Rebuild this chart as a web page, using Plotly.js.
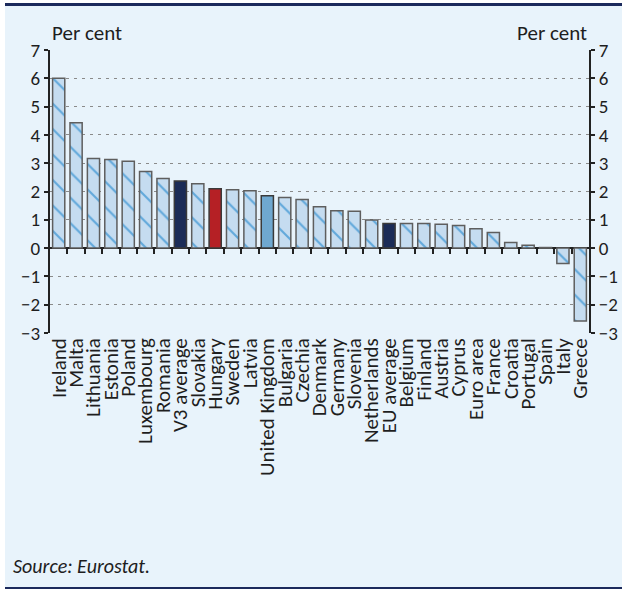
<!DOCTYPE html>
<html>
<head>
<meta charset="utf-8">
<script src="https://cdn.plot.ly/plotly-3.0.1.min.js"></script>
<style>
  html, body { margin: 0; padding: 0; background: #ffffff; }
  #panel { position: absolute; left: 5px; top: 3px; width: 617px; height: 581px;
           border-top: 3px solid #1b2a5c; border-bottom: 2px solid #1b2a5c; background: #e8f3fb; }
  #chart { width: 617px; height: 581px; }
</style>
</head>
<body>
<div id="panel"><div id="chart"></div></div>
<script>
const categories = ["Ireland","Malta","Lithuania","Estonia","Poland","Luxembourg","Romania","V3 average","Slovakia","Hungary","Sweden","Latvia","United Kingdom","Bulgaria","Czechia","Denmark","Germany","Slovenia","Netherlands","EU average","Belgium","Finland","Austria","Cyprus","Euro area","France","Croatia","Portugal","Spain","Italy","Greece"];
const values = [6.0, 4.43, 3.17, 3.13, 3.07, 2.71, 2.46, 2.37, 2.27, 2.10, 2.06, 2.03, 1.85, 1.79, 1.72, 1.46, 1.32, 1.30, 0.99, 0.87, 0.87, 0.87, 0.84, 0.80, 0.68, 0.55, 0.20, 0.10, 0.02, -0.54, -2.58];
const yTicks = [-3, -2, -1, 0, 1, 2, 3, 4, 5, 6, 7];

const solidColors = {"V3 average": "#1b2c57", "EU average": "#1b2c57", "Hungary": "#b52025", "United Kingdom": "#6fa8d0"};
const FONT = "Calibri, Carlito, Lato, 'Liberation Sans', sans-serif";

const idx = categories.map((c, i) => i);
const boundaries = idx.map(i => i + 0.5).slice(0, -1);

const hatched = {
  type: "bar",
  x: idx,
  y: categories.map((c, i) => solidColors[c] ? null : values[i]),
  marker: {
    color: "#c5dcf0",
    line: { color: "#5e5e5e", width: 1.5 },
    pattern: { shape: "\\", fgcolor: "#62a9db", fgopacity: 1, size: 18, solidity: 0.12, fillmode: "overlay" }
  },
  hoverinfo: "skip"
};
const solid = {
  type: "bar",
  x: idx,
  y: categories.map((c, i) => solidColors[c] ? values[i] : null),
  marker: {
    color: categories.map(c => solidColors[c] || "#c5dcf0"),
    line: { color: "#3a3a3a", width: 1.5 }
  },
  hoverinfo: "skip"
};
const ghost = { type: "scatter", x: [0], y: [0], xaxis: "x2", yaxis: "y", mode: "markers", marker: { opacity: 0 }, hoverinfo: "skip", showlegend: false };
const ghost2 = { type: "scatter", x: [0], y: [0], xaxis: "x", yaxis: "y2", mode: "markers", marker: { opacity: 0 }, hoverinfo: "skip", showlegend: false };

const n = categories.length;
const layout = {
  width: 617, height: 581,
  margin: { l: 45, r: 33, t: 44, b: 254 },
  paper_bgcolor: "#e8f3fb",
  plot_bgcolor: "#e8f3fb",
  showlegend: false,
  barmode: "overlay",
  bargap: 0.3,
  font: { family: FONT, size: 18, color: "#1e1e1e" },
  xaxis: {
    range: [-0.5, n - 0.5],
    tickmode: "array",
    tickvals: idx,
    ticktext: categories,
    tickangle: -90,
    ticks: "",
    showgrid: false,
    zeroline: false,
    showline: false,
    tickfont: { family: FONT, size: 21, color: "#1e1e1e" },
    fixedrange: true
  },
  xaxis2: {
    overlaying: "x",
    anchor: "free",
    position: 0.3,
    range: [-0.5, n - 0.5],
    tickmode: "array",
    tickvals: boundaries,
    ticks: "outside",
    ticklen: 5,
    tickwidth: 2,
    tickcolor: "#222",
    showticklabels: false,
    showgrid: false,
    zeroline: false,
    showline: false
  },
  yaxis: {
    range: [-3, 7],
    tickmode: "array",
    tickvals: yTicks,
    ticks: "outside",
    ticklen: 4,
    tickwidth: 2,
    tickcolor: "#222",
    showline: true,
    linewidth: 2,
    linecolor: "#222",
    showgrid: true,
    gridcolor: "#8a8a8a",
    gridwidth: 1,
    griddash: "3px,5px",
    zeroline: true,
    zerolinecolor: "#222",
    zerolinewidth: 2,
    tickfont: { family: FONT, size: 19, color: "#1e1e1e" },
    fixedrange: true
  },
  yaxis2: {
    overlaying: "y",
    side: "right",
    range: [-3, 7],
    tickmode: "array",
    tickvals: yTicks,
    ticks: "outside",
    ticklen: 4,
    tickwidth: 2,
    tickcolor: "#222",
    showline: true,
    linewidth: 2,
    linecolor: "#222",
    showgrid: false,
    zeroline: false,
    tickfont: { family: FONT, size: 19, color: "#1e1e1e" },
    fixedrange: true
  },
  annotations: [
    { text: "Per cent", xref: "paper", yref: "paper", x: 0, y: 1, xanchor: "left", yanchor: "bottom", yshift: 2, showarrow: false, font: { family: FONT, size: 21, color: "#1e1e1e" } },
    { text: "Per cent", xref: "paper", yref: "paper", x: 1, y: 1, xanchor: "right", yanchor: "bottom", yshift: 2, showarrow: false, font: { family: FONT, size: 21, color: "#1e1e1e" } },
    { text: "<i>Source: Eurostat.</i>", xref: "paper", yref: "paper", x: -0.072, y: -0.823, xanchor: "left", yanchor: "middle", showarrow: false, font: { family: FONT, size: 20, color: "#1e1e1e" } }
  ]
};
Plotly.newPlot("chart", [hatched, solid, ghost, ghost2], layout, { displayModeBar: false, staticPlot: true });
</script>
</body>
</html>
